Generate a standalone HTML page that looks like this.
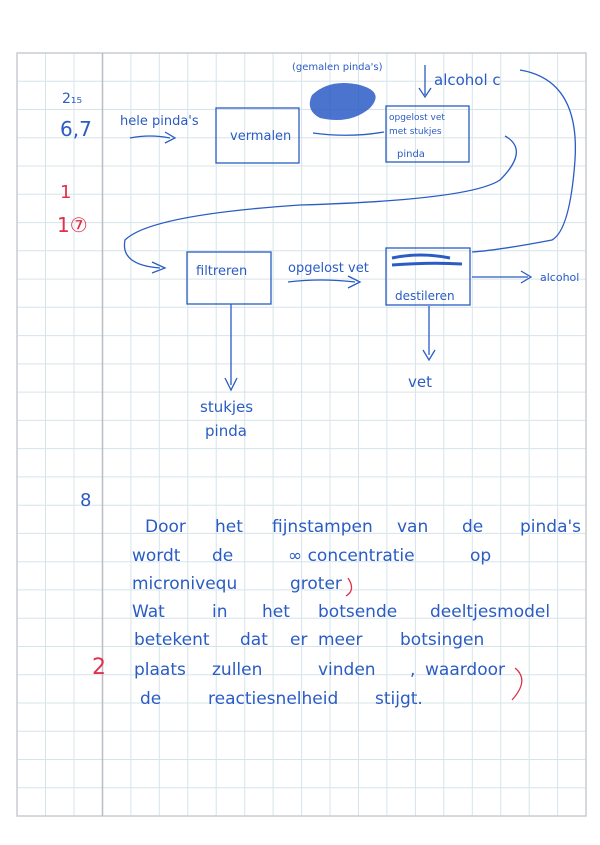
<!DOCTYPE html>
<html><head><meta charset="utf-8"><style>
html,body{margin:0;padding:0;background:#fff}
svg{display:block}
text{font-family:"DejaVu Sans","Liberation Sans",sans-serif;fill:#2a5cc4}
.h text{font-size:17px}
</style></head><body>
<svg width="600" height="845" viewBox="0 0 600 845" xmlns="http://www.w3.org/2000/svg">
<g stroke="#d6e4ea" stroke-width="1">
<path d="M45.5 53V816M74 53V816M130.9 53V816M159.3 53V816M187.8 53V816M216.2 53V816M244.7 53V816M273.1 53V816M301.6 53V816M330 53V816M358.5 53V816M386.9 53V816M415.4 53V816M443.8 53V816M472.3 53V816M500.7 53V816M529.2 53V816M557.6 53V816"/>
<path d="M17 81.3H586M17 109.5H586M17 137.8H586M17 166H586M17 194.3H586M17 222.6H586M17 250.8H586M17 279.1H586M17 307.3H586M17 335.6H586M17 363.9H586M17 392.1H586M17 420.4H586M17 448.6H586M17 476.9H586M17 505.2H586M17 533.4H586M17 561.7H586M17 589.9H586M17 618.2H586M17 646.5H586M17 674.7H586M17 703H586M17 731.2H586M17 759.5H586M17 787.7H586"/>
</g>
<rect x="17" y="53" width="569" height="763" fill="none" stroke="#c8ccd2" stroke-width="1.5"/>
<line x1="102.5" y1="53" x2="102.5" y2="816" stroke="#b8bcc4" stroke-width="1.5"/>

<g fill="none" stroke="#2a5cc4" stroke-width="1.3">
<rect x="216" y="108" width="83" height="55"/>
<rect x="386" y="106" width="83" height="56"/>
<rect x="187" y="252" width="84" height="52"/>
<rect x="386" y="248" width="84" height="57"/>
<path d="M130 138 Q150 134 170 138 M165 132 L175 138 L165 143"/>
<path d="M313 133 Q350 138 384 132"/>
<path d="M425 65 V95 M419 88 L425 97 L431 88"/>
<path d="M520 70 Q580 80 575 160 Q570 230 552 240 Q500 250 472 252"/>
<path d="M505 136 Q530 150 500 180 Q470 200 300 205 Q150 215 125 240 Q120 265 160 268 M152 262 L165 268 L152 273"/>
<path d="M288 282 Q320 278 355 282 M348 276 L360 282 L348 288"/>
<path d="M472 277 H528 M521 271 L531 277 L521 283"/>
<path d="M231 304 V385 M225 378 L231 390 L237 378"/>
<path d="M429 306 V355 M423 350 L429 360 L435 350"/>
</g>
<path d="M312 95 Q330 78 360 85 Q385 92 370 108 Q350 125 320 118 Q305 110 312 95Z" fill="#2a5cc4" opacity="0.85"/>
<path d="M392 258 Q420 252 450 258 M392 265 Q430 262 462 264" stroke="#2a5cc4" stroke-width="3" fill="none"/>

<text x="62" y="103" font-size="14">2₁₅</text>
<text x="60" y="136" font-size="20">6,7</text>
<text x="120" y="125" font-size="13">hele pinda's</text>
<text x="230" y="140" font-size="13">vermalen</text>
<text x="292" y="70" font-size="10">(gemalen pinda's)</text>
<text x="434" y="85" font-size="15">alcohol c</text>
<text x="389" y="120" font-size="9">opgelost vet</text>
<text x="389" y="134" font-size="9">met stukjes</text>
<text x="397" y="157" font-size="10">pinda</text>
<text x="196" y="275" font-size="13">filtreren</text>
<text x="288" y="272" font-size="13">opgelost vet</text>
<text x="395" y="300" font-size="12">destileren</text>
<text x="540" y="281" font-size="11">alcohol</text>
<text x="200" y="412" font-size="15">stukjes</text>
<text x="205" y="436" font-size="15">pinda</text>
<text x="408" y="387" font-size="15">vet</text>
<text x="80" y="506" font-size="18">8</text>
<g class="h">
<text x="145" y="532">Door</text><text x="215" y="532">het</text><text x="272" y="532">fijnstampen</text><text x="397" y="532">van</text><text x="462" y="532">de</text><text x="520" y="532">pinda's</text>
<text x="132" y="561">wordt</text><text x="212" y="561">de</text><text x="288" y="561">∞ concentratie</text><text x="470" y="561">op</text>
<text x="132" y="589">micronivequ</text><text x="290" y="589">groter</text>
<text x="132" y="617">Wat</text><text x="212" y="617">in</text><text x="262" y="617">het</text><text x="318" y="617">botsende</text><text x="430" y="617">deeltjesmodel</text>
<text x="134" y="645">betekent</text><text x="240" y="645">dat</text><text x="290" y="645">er</text><text x="318" y="645">meer</text><text x="400" y="645">botsingen</text>
<text x="134" y="675">plaats</text><text x="212" y="675">zullen</text><text x="318" y="675">vinden</text><text x="410" y="675">,</text><text x="425" y="675">waardoor</text>
<text x="140" y="704">de</text><text x="208" y="704">reactiesnelheid</text><text x="375" y="704">stijgt.</text>
</g>
<text x="60" y="198" font-size="18" style="fill:#e0304a">1</text>
<text x="57" y="232" font-size="20" style="fill:#e0304a">1⑦</text>
<text x="92" y="674" font-size="22" style="fill:#e0304a">2</text>
<path d="M348 578 Q356 590 346 596 M515 668 Q530 680 512 700" stroke="#e0304a" fill="none" stroke-width="1.3"/>
</svg>
</body></html>
